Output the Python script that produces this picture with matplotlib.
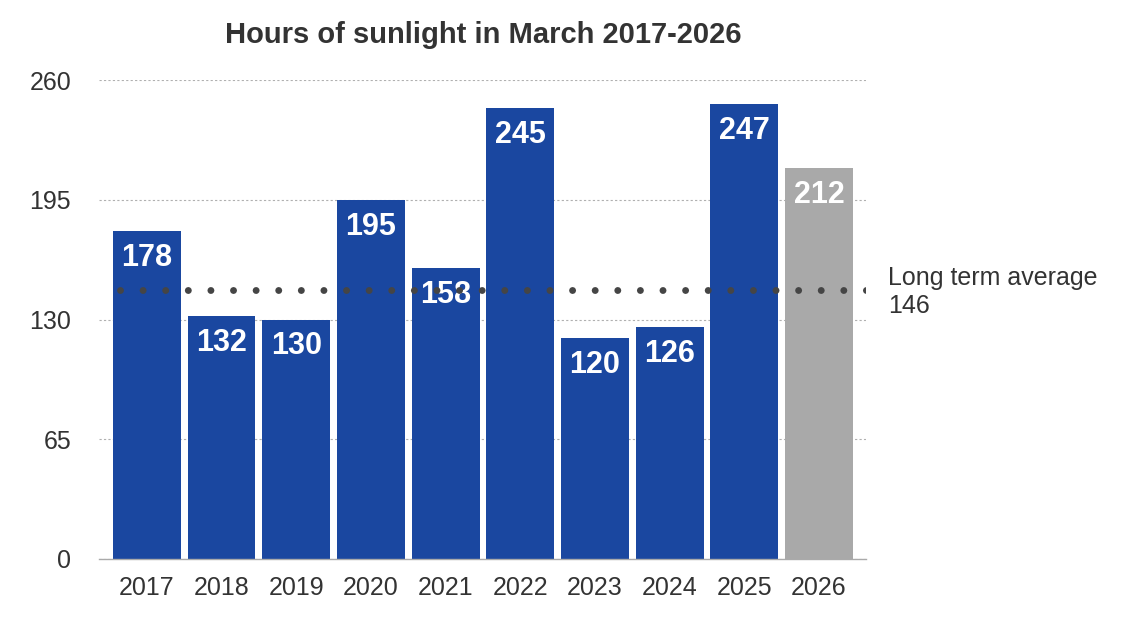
import matplotlib
matplotlib.use("Agg")
import matplotlib.pyplot as plt

years = ["2017", "2018", "2019", "2020", "2021", "2022", "2023", "2024", "2025", "2026"]
hours = [178, 132, 130, 195, 158, 245, 120, 126, 247, 212]
bar_colors = ["#1a47a0"] * 9 + ["#a9a9a9"]
average = 146
yticks = [0, 65, 130, 195, 260]
title = "Hours of sunlight in March 2017-2026"

plt.rcParams["font.family"] = ["Liberation Sans", "DejaVu Sans"]

fig = plt.figure(figsize=(11.32, 6.26), dpi=100)
W, H = 1132, 626
ax = fig.add_axes([99 / W, 1 - 559 / H, (866 - 99) / W, (559 - 80) / H])

x = list(range(len(years)))
ax.bar(x, hours, width=0.91, color=bar_colors, zorder=2)

for xi, v in zip(x, hours):
    ax.annotate(str(v), (xi, v), xytext=(0, -27), textcoords="offset pixels",
                ha="center", va="center", color="white", fontsize=22,
                fontweight="bold", zorder=3)

ax.plot([-0.36, 9.625], [average, average], color="#454545", linewidth=5,
        linestyle=(0, (0.001, 3.254)), dash_capstyle="round", zorder=5)

ax.text(888 / W, 1 - 292 / H, "Long term average\n146", transform=fig.transFigure,
        ha="left", va="center", fontsize=18, color="#333333", linespacing=1.2)

ax.set_xlim(-0.64, 9.63)
ax.set_ylim(0, 260)
ax.set_yticks(yticks)
ax.set_xticks(x)
ax.set_xticklabels(years)
ax.tick_params(axis="both", length=0, labelsize=18, labelcolor="#333333")
ax.tick_params(axis="y", pad=20)
ax.tick_params(axis="x", pad=12)
ax.yaxis.grid(True, color="#b0b0b0", linestyle=(0, (2, 2)), linewidth=0.8, zorder=0)
ax.set_axisbelow(True)
for s in ["top", "right", "left"]:
    ax.spines[s].set_visible(False)
ax.spines["bottom"].set_color("#aaaaaa")
ax.spines["bottom"].set_linewidth(1.0)
ax.spines["bottom"].set_zorder(5)

fig.text(483 / W, 1 - 35 / H, title, ha="center", va="center", fontsize=21,
         fontweight="bold", color="#333333")

fig.savefig("out.png", dpi=100)
